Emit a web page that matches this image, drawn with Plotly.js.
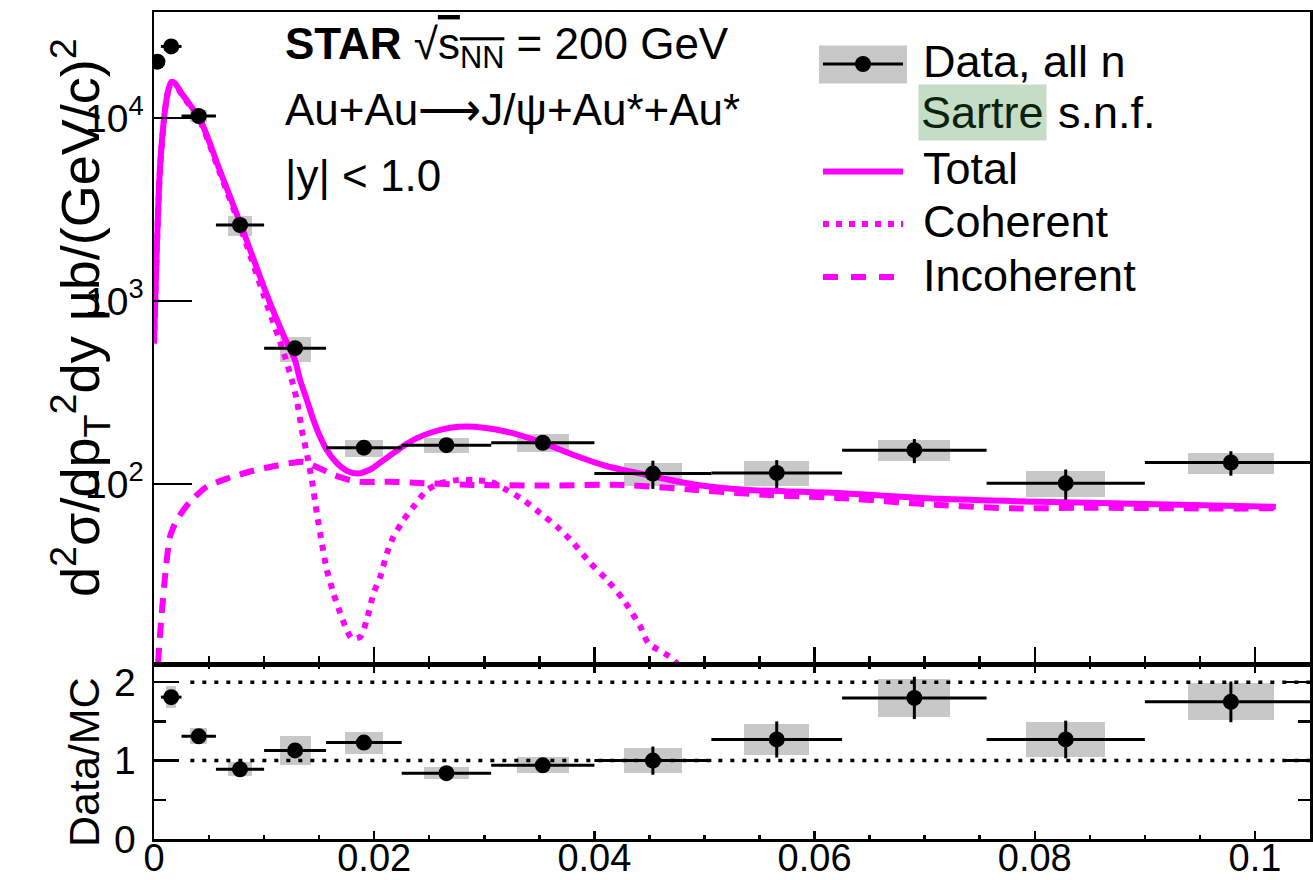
<!DOCTYPE html>
<html><head><meta charset="utf-8">
<script src="https://cdn.plot.ly/plotly-3.0.1.min.js"></script>
<style>html,body{margin:0;padding:0;background:#fff;} #chart{width:1313px;height:880px;}</style>
</head><body><div id="chart"></div>
<script>
// ---- data ----
const binEdges = [0, 0.000625, 0.0025, 0.005625, 0.01, 0.015625, 0.0225, 0.030625, 0.04, 0.050625, 0.0625, 0.075625, 0.09, 0.105625];
const dataY    = [20300, 24600, 10250, 2600, 552, 158, 163, 168, 114, 115, 153, 101, 131];
const dataStat = [800, 700, 250, 60, 25, 8, 8, 12, 20, 20, 23, 19, 20];
const dataSys  = [1500, 1900, 780, 330, 85, 17, 16, 19, 16.5, 18, 20, 16.5, 17];

const ratioY    = [null, 1.81, 1.31, 0.89, 1.13, 1.23, 0.84, 0.94, 1.00, 1.27, 1.80, 1.27, 1.75];
const ratioStat = [null, 0.05, 0.04, 0.03, 0.05, 0.06, 0.05, 0.06, 0.18, 0.23, 0.27, 0.24, 0.26];
const ratioSys  = [null, 0.14, 0.10, 0.09, 0.19, 0.14, 0.08, 0.10, 0.155, 0.20, 0.245, 0.22, 0.235];

const totalX = [0, 0.00025, 0.00055, 0.001, 0.0013, 0.0016, 0.0019, 0.0025, 0.0042, 0.006,
  0.0079, 0.01025, 0.01175, 0.0128, 0.01327, 0.01388, 0.01448, 0.01509, 0.0157, 0.01661,
  0.01752, 0.01848, 0.01964, 0.02085, 0.02236, 0.02388, 0.02539, 0.02691, 0.02843, 0.02994,
  0.03206, 0.03509, 0.03812, 0.04115, 0.04418, 0.04927, 0.05369, 0.06255, 0.0714, 0.08024,
  0.0891, 0.1019];
const totalY = [589, 1900, 5420, 11060, 14230, 15780, 15490, 13650, 9750, 5130,
  2600, 1080, 652, 476, 370, 288, 224, 181, 153, 130,
  118, 114, 120, 135, 157, 178, 193, 203, 206, 203,
  193, 170, 144, 125, 114, 99, 93, 89, 83, 80,
  78, 75];

const cohX = [0, 0.00025, 0.00055, 0.001, 0.0013, 0.0016, 0.0019, 0.0025, 0.0042, 0.006,
  0.0079, 0.01025, 0.01175, 0.01252, 0.01297, 0.01343, 0.01388, 0.01434, 0.01479, 0.01525,
  0.0157, 0.0163, 0.01691, 0.01752, 0.01797, 0.01873, 0.01933, 0.01994, 0.02055, 0.02115,
  0.02175, 0.02266, 0.02357, 0.02479, 0.026, 0.02752, 0.02903, 0.03055, 0.03206, 0.03357,
  0.03509, 0.0366, 0.03812, 0.03964, 0.04115, 0.04266, 0.04418, 0.0449, 0.047, 0.05,
  0.054];
const cohY = [585, 1880, 5380, 11000, 14150, 15690, 15380, 13500, 9580, 4970,
  2480, 960, 530, 370, 288, 197, 147, 105, 69.2, 47.4,
  33.9, 25.3, 19.7, 15.9, 14.3, 14.6, 18.1, 25.3, 31.1, 41.8,
  51.5, 63.5, 75.1, 92.7, 101, 105, 105, 103, 92.7, 81.8,
  69.2, 58.5, 47.4, 36.9, 29.9, 23.2, 16.6, 13.5, 11.2, 7,
  4];

const incX = [0.0001, 0.00039, 0.0007, 0.001, 0.00145, 0.00206, 0.00327, 0.00479, 0.00661, 0.00873,
  0.01085, 0.01236, 0.01358, 0.01479, 0.0163, 0.01843, 0.02145, 0.02448, 0.02903, 0.03509,
  0.04264, 0.04927, 0.0559, 0.06255, 0.0714, 0.07803, 0.08466, 0.09351, 0.1019];
const incY = [3, 10.9, 19.6, 31.1, 51.5, 63.5, 80, 96.6, 107, 117,
  125, 130, 132, 124, 112, 103, 103, 101, 98.9, 98,
  98.9, 92.7, 87, 83.6, 76.7, 73.6, 74.2, 73.6, 73.6];

const refLevels = [1, 2];
const xTickVals = [0, 0.02, 0.04, 0.06, 0.08, 0.1];
const xTickText = ['0', '0.02', '0.04', '0.06', '0.08', '0.1'];
const yTickVals = [100, 1000, 10000];
const yTickText = ['10<sup>2</sup>', '10<sup>3</sup>', '10<sup>4</sup>'];
const legendLabels = ['Data, all n', 'Sartre', 's.n.f.', 'Total', 'Coherent', 'Incoherent'];

// ---- derived ----
const centers = binEdges.slice(0, -1).map((lo, i) => (lo + binEdges[i + 1]) / 2);
const halfW = binEdges.slice(0, -1).map((lo, i) => (binEdges[i + 1] - lo) / 2);
const minorVals = [];
[10, 100, 1000, 10000].forEach(d => { for (let k = 2; k <= 9; k++) minorVals.push(k * d); });

const MAG = '#ff00ff';
const GRAY = '#c8c8c8';
const FONT = 'Liberation Sans, Arial, Helvetica, sans-serif';

// plot area in pixels (for placing the text/legend decoration)
const L = 154, R = 1310, T = 12, B = 839;
const px = v => (v - L) / (R - L);
const py = v => (B - v) / (B - T);

const traces = [];
traces.push({type: 'bar', x: centers, y: dataSys.map(s => 2 * s), base: dataY.map((v, i) => v - dataSys[i]),
  width: halfW, marker: {color: GRAY, line: {width: 0}}, xaxis: 'x', yaxis: 'y', showlegend: false, hoverinfo: 'skip'});
traces.push({type: 'bar', x: centers, y: ratioSys.map(s => s === null ? null : 2 * s),
  base: ratioY.map((v, i) => v === null ? null : v - ratioSys[i]),
  width: halfW, marker: {color: GRAY, line: {width: 0}}, xaxis: 'x2', yaxis: 'y2', showlegend: false, hoverinfo: 'skip'});
refLevels.forEach(r => traces.push({type: 'scatter', mode: 'lines', x: [0.0033, 0.105], y: [r, r],
  line: {color: 'black', width: 3.5, dash: '4px,8px'}, xaxis: 'x2', yaxis: 'y2', showlegend: false, hoverinfo: 'skip'}));
traces.push({type: 'scatter', mode: 'lines', x: incX, y: incY, name: 'Incoherent',
  line: {color: MAG, width: 6, dash: '15px,10px', shape: 'spline', smoothing: 0.6}, xaxis: 'x', yaxis: 'y', showlegend: false});
traces.push({type: 'scatter', mode: 'lines', x: cohX, y: cohY, name: 'Coherent',
  line: {color: MAG, width: 6, dash: '6px,7px', shape: 'spline', smoothing: 0.6}, xaxis: 'x', yaxis: 'y', showlegend: false});
traces.push({type: 'scatter', mode: 'lines', x: totalX, y: totalY, name: 'Total',
  line: {color: MAG, width: 6, shape: 'spline', smoothing: 0.8}, xaxis: 'x', yaxis: 'y', showlegend: false});
traces.push({type: 'scatter', mode: 'markers', x: centers, y: dataY, name: 'Data, all n',
  marker: {color: 'black', size: 16},
  error_y: {type: 'data', array: dataStat, color: 'black', thickness: 3, width: 0},
  error_x: {type: 'data', array: halfW, color: 'black', thickness: 3, width: 0},
  xaxis: 'x', yaxis: 'y', showlegend: false});
traces.push({type: 'scatter', mode: 'markers', x: centers, y: ratioY, name: 'Data/MC',
  marker: {color: 'black', size: 16},
  error_y: {type: 'data', array: ratioStat.map(v => v === null ? 0 : v), color: 'black', thickness: 3, width: 0},
  error_x: {type: 'data', array: halfW, color: 'black', thickness: 3, width: 0},
  xaxis: 'x2', yaxis: 'y2', showlegend: false});

const axCommon = {showgrid: false, zeroline: false, showline: true, linewidth: 2.5, linecolor: 'black',
  tickcolor: 'black', tickwidth: 2.5, ticks: 'inside'};

const TXT = 44;
const annotations = [
  {text: '<b>STAR</b> √<span style="text-decoration:overline">s<sub>NN</sub></span> = 200 GeV', x: px(283), y: py(47)},
  {text: 'Au+Au⟶J/ψ+Au*+Au*', x: px(283), y: py(109)},
  {text: '|y| < 1.0', x: px(283), y: py(175)},
].map(a => Object.assign({xref: 'paper', yref: 'paper', xanchor: 'left', yanchor: 'middle', showarrow: false,
  font: {size: TXT, family: FONT, color: 'black'}}, a));

const legY = [61, 113, 168, 221, 275];
const LEGF = 45;
annotations.push({xref: 'paper', yref: 'paper', x: px(921), y: py(legY[0]), xanchor: 'left', yanchor: 'middle', showarrow: false,
  text: legendLabels[0], font: {size: LEGF, family: FONT, color: 'black'}});
annotations.push({xref: 'paper', yref: 'paper', x: px(918), y: py(legY[1]), xanchor: 'left', yanchor: 'middle', showarrow: false,
  text: legendLabels[1], bgcolor: '#c5dcc5', borderpad: 2, font: {size: LEGF, family: FONT, color: '#0c220c'}});
annotations.push({xref: 'paper', yref: 'paper', x: px(1056), y: py(legY[1]), xanchor: 'left', yanchor: 'middle', showarrow: false,
  text: legendLabels[2], font: {size: LEGF, family: FONT, color: 'black'}});
[3, 4, 5].forEach((k, j) => annotations.push({xref: 'paper', yref: 'paper', x: px(921), y: py(legY[2 + j]), xanchor: 'left', yanchor: 'middle', showarrow: false,
  text: legendLabels[k], font: {size: LEGF, family: FONT, color: 'black'}}));

annotations.push({xref: 'paper', yref: 'paper', x: px(80), y: py(318), xanchor: 'center', yanchor: 'middle', showarrow: false, textangle: -90,
  text: 'd<sup>2</sup>σ/dp<sub>T</sub><sup>2</sup>dy μb/(GeV/c)<sup>2</sup>', font: {size: 54, family: FONT, color: 'black'}});
annotations.push({xref: 'paper', yref: 'paper', x: px(84), y: py(762), xanchor: 'center', yanchor: 'middle', showarrow: false, textangle: -90,
  text: 'Data/MC', font: {size: 43, family: FONT, color: 'black'}});

const shapes = [
  {type: 'rect', xref: 'paper', yref: 'paper', x0: px(819), x1: px(907), y0: py(83.5), y1: py(45.5), fillcolor: GRAY, line: {width: 0}, layer: 'above'},
  {type: 'line', xref: 'paper', yref: 'paper', x0: px(823), x1: px(903), y0: py(64), y1: py(64), line: {color: 'black', width: 3}},
  {type: 'circle', xref: 'paper', yref: 'paper', x0: px(855), x1: px(871), y0: py(72), y1: py(56), fillcolor: 'black', line: {width: 0}},
  {type: 'line', xref: 'paper', yref: 'paper', x0: px(823), x1: px(903), y0: py(171.5), y1: py(171.5), line: {color: MAG, width: 6}},
  {type: 'line', xref: 'paper', yref: 'paper', x0: px(823), x1: px(903), y0: py(224), y1: py(224), line: {color: MAG, width: 6, dash: '6px,7px'}},
  {type: 'line', xref: 'paper', yref: 'paper', x0: px(823), x1: px(903), y0: py(277), y1: py(277), line: {color: MAG, width: 6, dash: '15px,13px'}},
];

const layout = {
  width: 1313, height: 880,
  margin: {l: L, r: 1313 - R, t: T, b: 880 - B},
  paper_bgcolor: 'white', plot_bgcolor: 'white',
  font: {family: FONT, color: 'black', size: 38},
  showlegend: false, barmode: 'overlay', bargap: 0,
  xaxis: Object.assign({}, axCommon, {anchor: 'y', domain: [0, 1], range: [0, 0.105], tickvals: xTickVals,
    showticklabels: false, ticklen: 18, mirror: true,
    minor: {ticks: 'inside', ticklen: 9, dtick: 0.005, tick0: 0, tickwidth: 2.5, tickcolor: 'black'}}),
  xaxis2: Object.assign({}, axCommon, {anchor: 'y2', domain: [0, 1], range: [0, 0.105], tickvals: xTickVals, ticktext: xTickText,
    ticklen: 8, mirror: 'allticks', tickfont: {size: 38}, ticklabelstandoff: -16,
    minor: {ticks: 'inside', ticklen: 4, dtick: 0.005, tick0: 0, tickwidth: 2.5, tickcolor: 'black'}}),
  yaxis: Object.assign({}, axCommon, {type: 'log', anchor: 'x', domain: [0.2104, 1], range: [1.011, 4.579],
    tickvals: yTickVals, ticktext: yTickText, ticklen: 38, mirror: true, tickfont: {size: 39}}),
  yaxis3: {type: 'log', overlaying: 'y', anchor: 'x', side: 'left', range: [1.011, 4.579], tickvals: minorVals,
    ticks: 'inside', ticklen: 18, tickwidth: 2.5, tickcolor: 'black', showticklabels: false, showline: false, showgrid: false, zeroline: false},
  yaxis2: Object.assign({}, axCommon, {anchor: 'x2', domain: [0, 0.2104], range: [0, 2.22], tickvals: [0, 1, 2],
    ticklen: 25, mirror: 'allticks', tickfont: {size: 39}, ticklabelstandoff: 8,
    minor: {ticks: 'inside', ticklen: 12, dtick: 0.5, tick0: 0, tickwidth: 2.5, tickcolor: 'black'}}),
  annotations: annotations,
  shapes: shapes,
};

Plotly.newPlot('chart', traces, layout, {displayModeBar: false, staticPlot: true});
</script>
</body></html>
